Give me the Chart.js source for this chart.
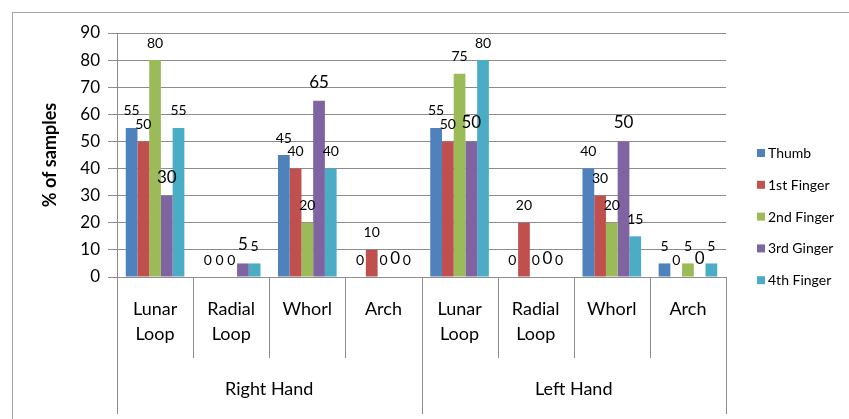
<!DOCTYPE html>
<html>
<head>
<meta charset="utf-8">
<script src="https://cdn.jsdelivr.net/npm/chart.js@4.4.0/dist/chart.umd.min.js"></script>
<style>
  html, body { margin: 0; padding: 0; background: #fff; }
  #wrap { width: 849px; height: 419px; }
</style>
</head>
<body>
<div id="wrap"><canvas id="chart" width="849" height="419"></canvas></div>
<script>
// categories: two hands, four pattern types each
const categories = [['Lunar', 'Loop'], ['Radial', 'Loop'], ['Whorl'], ['Arch'],
                    ['Lunar', 'Loop'], ['Radial', 'Loop'], ['Whorl'], ['Arch']];
const hands = ['Right Hand', 'Left Hand'];
const seriesNames = ['Thumb', '1st Finger', '2nd Finger', '3rd Ginger', '4th Finger'];
const seriesColors = ['#4F81BD', '#C0504D', '#9BBB59', '#8064A2', '#4BACC6'];

// % of samples, right hand first then left hand
const thumb        = [55, 0, 45, 0,  55, 0,  40, 5];
const firstFinger  = [50, 0, 40, 10, 50, 20, 30, 0];
const secondFinger = [80, 0, 20, 0,  75, 0,  20, 5];
const thirdFinger  = [30, 5, 65, 0,  50, 0,  50, 0];
const fourthFinger = [55, 5, 40, 0,  80, 0,  15, 5];
const seriesValues = [thumb, firstFinger, secondFinger, thirdFinger, fourthFinger];

const yMin = 0, yMax = 90, yStep = 10;

const FONT = 'Lato, "Open Sans", sans-serif';
const GRID = '#8c8c8c';

// outer frame (cut at the right and bottom like the original)
const framePlugin = {
    id: 'frame',
    beforeDraw(chart) {
        const ctx = chart.ctx;
        ctx.save();
        ctx.strokeStyle = '#a6a6a6';
        ctx.lineWidth = 1;
        ctx.strokeRect(12.5, 12.5, chart.width + 20, chart.height + 20);
        ctx.restore();
    }
};

// values above the bars
const valueLabels = {
    id: 'valueLabels',
    afterDatasetsDraw(chart) {
        const ctx = chart.ctx;
        ctx.save();
        ctx.fillStyle = '#000';
        ctx.textAlign = 'center';
        ctx.textBaseline = 'bottom';
        chart.data.datasets.forEach((ds, i) => {
            const meta = chart.getDatasetMeta(i);
            ctx.font = (i === 3 ? '17px ' : '14px ') + FONT;
            meta.data.forEach((bar, j) => {
                ctx.fillText(String(ds.data[j]), bar.x, bar.y - 10);
            });
        });
        ctx.restore();
    }
};

// two level category axis below the plot
const multiAxis = {
    id: 'multiAxis',
    afterDraw(chart) {
        const ctx = chart.ctx;
        const x = chart.scales.x;
        const area = chart.chartArea;
        const n = categories.length;
        const edges = [];
        for (let i = 0; i <= n; i++) {
            if (i === 0) edges.push(area.left);
            else if (i === n) edges.push(area.right);
            else edges.push((x.getPixelForValue(i - 1) + x.getPixelForValue(i)) / 2);
        }
        ctx.save();
        ctx.strokeStyle = GRID;
        ctx.lineWidth = 1;
        edges.forEach((ex, i) => {
            const px = Math.round(ex) + 0.5;
            const long = (i % 4 === 0);
            ctx.beginPath();
            ctx.moveTo(px, area.bottom);
            ctx.lineTo(px, long ? 414 : 358);
            ctx.stroke();
        });
        ctx.fillStyle = '#000';
        ctx.textAlign = 'center';
        ctx.textBaseline = 'alphabetic';
        ctx.font = '18px ' + FONT;
        categories.forEach((lines, i) => {
            const cx = x.getPixelForValue(i);
            lines.forEach((t, k) => ctx.fillText(t, cx, 315 + k * 25));
        });
        hands.forEach((h, g) => {
            const cx = (edges[g * 4] + edges[g * 4 + 4]) / 2;
            ctx.fillText(h, cx, 395);
        });
        ctx.restore();
    }
};

// legend on the right
const sideLegend = {
    id: 'sideLegend',
    afterDraw(chart) {
        const ctx = chart.ctx;
        ctx.save();
        ctx.font = '14px ' + FONT;
        ctx.textBaseline = 'alphabetic';
        ctx.textAlign = 'left';
        chart.data.datasets.forEach((ds, i) => {
            const base = 158 + i * 31.8;
            ctx.fillStyle = ds.backgroundColor;
            ctx.fillRect(757, base - 9, 8, 8);
            ctx.fillStyle = '#000';
            ctx.fillText(ds.label, 768, base);
        });
        ctx.restore();
    }
};

const datasets = seriesNames.map((name, i) => ({
    label: name,
    data: seriesValues[i],
    backgroundColor: seriesColors[i],
    borderWidth: 0,
    categoryPercentage: 0.77,
    barPercentage: 1.0
}));

new Chart(document.getElementById('chart').getContext('2d'), {
    type: 'bar',
    data: {
        labels: categories.map(c => c.join(' ')),
        datasets: datasets
    },
    options: {
        responsive: false,
        animation: false,
        layout: { padding: { left: 12, top: 33, right: 123, bottom: 142 } },
        plugins: {
            legend: { display: false },
            tooltip: { enabled: false }
        },
        scales: {
            x: { display: false },
            y: {
                min: yMin,
                max: yMax,
                ticks: {
                    stepSize: yStep,
                    color: '#000',
                    padding: 8,
                    font: { family: FONT, size: 17 }
                },
                grid: { color: GRID, tickLength: 9, tickColor: GRID },
                border: { display: true, color: GRID },
                title: {
                    display: true,
                    text: '% of samples',
                    color: '#000',
                    padding: { top: 27, bottom: 0 },
                    font: { family: FONT, size: 18, weight: 'bold' }
                },
                afterFit(scale) { scale.width = 105; }
            }
        }
    },
    plugins: [framePlugin, valueLabels, multiAxis, sideLegend]
});
</script>
</body>
</html>
